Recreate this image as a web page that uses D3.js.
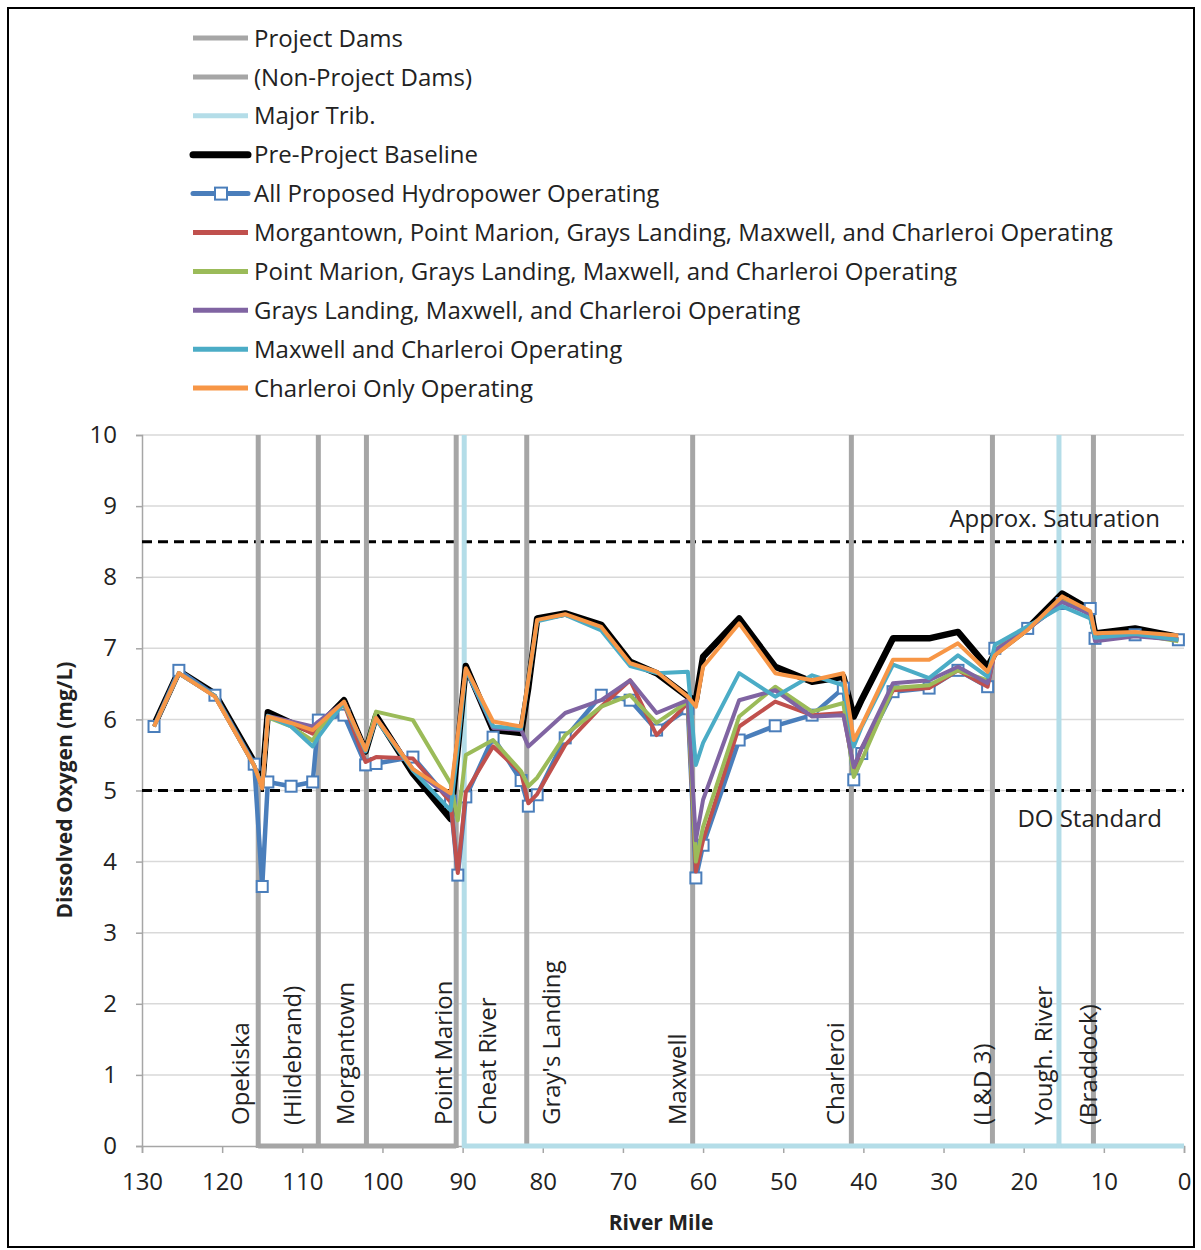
<!DOCTYPE html>
<meta charset="utf-8">
<script src="https://d3js.org/d3.v7.min.js"></script>
<style>
body { margin: 0; background: #fff; }
text { font-family: "Open Sans", sans-serif; fill: #222; }
</style>
<div id="chart"></div>
<script>

// river miles of the model output points (upstream -> downstream)
var miles = [128.5, 125.4, 120.9, 116.0, 115.0, 114.3, 111.4, 108.7, 108.0, 104.8,
             102.1, 100.8, 96.2, 91.5, 90.6, 89.6, 86.2, 82.7, 81.8, 80.7,
             77.2, 72.7, 69.1, 65.8, 61.9, 60.9, 60.0, 55.5, 51.0, 46.4,
             42.5, 41.2, 40.2, 36.3, 31.8, 28.2, 24.5, 23.6, 19.5, 15.2,
             11.7, 11.1, 6.1, 0.7];

// dissolved oxygen (mg/L) for each scenario
var baseline = [5.92, 6.68, 6.36, 5.40, 5.10, 6.10, 5.95, 5.83, 5.90, 6.27,
                5.55, 6.05, 5.24, 4.60, 5.60, 6.75, 5.85, 5.81, 6.45, 7.42,
                7.49, 7.33, 6.81, 6.65, 6.32, 6.27, 6.88, 7.42, 6.74, 6.53,
                6.60, 6.04, 6.28, 7.14, 7.14, 7.23, 6.74, 6.93, 7.28, 7.77,
                7.54, 7.21, 7.28, 7.16];
var allHydro = [5.90, 6.69, 6.34, 5.37, 3.65, 5.12, 5.06, 5.12, 5.99, 6.06,
                5.36, 5.38, 5.47, 4.85, 3.81, 4.91, 5.75, 5.14, 4.78, 4.94,
                5.74, 6.34, 6.27, 5.85, 6.15, 3.77, 4.23, 5.71, 5.91, 6.06,
                6.44, 5.15, 5.52, 6.39, 6.44, 6.69, 6.46, 7.00, 7.28, 7.63,
                7.56, 7.14, 7.19, 7.12];
var fromMorgantown = [5.90, 6.65, 6.33, 5.35, 5.05, 6.03, 5.95, 5.80, 5.90, 6.22,
                      5.40, 5.47, 5.45, 4.84, 3.84, 4.98, 5.62, 5.25, 4.82, 4.95,
                      5.64, 6.18, 6.55, 5.78, 6.23, 3.86, 4.30, 5.90, 6.25, 6.06,
                      6.09, 5.30, 5.60, 6.41, 6.44, 6.69, 6.46, 6.95, 7.27, 7.68,
                      7.50, 7.16, 7.20, 7.13];
var fromPointMarion = [5.90, 6.65, 6.33, 5.35, 5.05, 6.03, 5.90, 5.70, 5.85, 6.22,
                       5.57, 6.11, 5.99, 5.10, 4.58, 5.50, 5.71, 5.27, 5.06, 5.18,
                       5.78, 6.18, 6.34, 5.95, 6.25, 4.00, 4.49, 6.04, 6.46, 6.11,
                       6.23, 5.19, 5.43, 6.44, 6.48, 6.69, 6.55, 6.98, 7.27, 7.66,
                       7.50, 7.14, 7.20, 7.10];
var fromGraysLanding = [5.90, 6.65, 6.33, 5.35, 5.05, 6.05, 5.97, 5.90, 5.97, 6.24,
                        5.57, 6.02, 5.30, 4.90, 5.75, 6.70, 5.88, 5.85, 5.62, 5.73,
                        6.09, 6.27, 6.55, 6.09, 6.27, 4.30, 4.87, 6.27, 6.41, 6.04,
                        6.06, 5.33, 5.60, 6.51, 6.55, 6.74, 6.51, 6.97, 7.27, 7.65,
                        7.48, 7.10, 7.17, 7.12];
var fromMaxwell = [5.90, 6.65, 6.33, 5.35, 5.05, 6.05, 5.90, 5.62, 5.75, 6.24,
                   5.55, 6.00, 5.28, 4.72, 5.60, 6.70, 5.90, 5.87, 6.55, 7.38,
                   7.47, 7.25, 6.75, 6.65, 6.67, 5.36, 5.67, 6.65, 6.32, 6.62,
                   6.48, 5.62, 5.90, 6.77, 6.58, 6.90, 6.60, 7.05, 7.31, 7.59,
                   7.42, 7.15, 7.20, 7.12];
var charleroiOnly = [5.90, 6.65, 6.32, 5.35, 5.03, 6.04, 5.95, 5.85, 5.92, 6.25,
                     5.57, 6.02, 5.30, 4.96, 5.78, 6.72, 5.97, 5.90, 6.56, 7.40,
                     7.48, 7.30, 6.79, 6.67, 6.32, 6.18, 6.74, 7.35, 6.65, 6.55,
                     6.65, 5.71, 5.92, 6.84, 6.84, 7.07, 6.67, 6.90, 7.26, 7.73,
                     7.52, 7.21, 7.23, 7.18];

// dams and tributaries
var damNames = ["Opekiska", "(Hildebrand)", "Morgantown", "Point Marion", "Gray's Landing",
                "Maxwell", "Charleroi", "(L&D 3)", "(Braddock)"];
var damMiles = [115.5, 108.0, 102.0, 90.8, 82.0, 61.3, 41.5, 23.9, 11.3];
var tribNames = ["Cheat River", "Yough. River"];
var tribMiles = [89.8, 15.6];

var yTicks = [0, 1, 2, 3, 4, 5, 6, 7, 8, 9, 10];
var xTicks = [130, 120, 110, 100, 90, 80, 70, 60, 50, 40, 30, 20, 10, 0];
var saturation = 8.5, doStandard = 5;

var legendNames = ["Project Dams", "(Non-Project Dams)", "Major Trib.", "Pre-Project Baseline",
  "All Proposed Hydropower Operating",
  "Morgantown, Point Marion, Grays Landing, Maxwell, and Charleroi Operating",
  "Point Marion, Grays Landing, Maxwell, and Charleroi Operating",
  "Grays Landing, Maxwell, and Charleroi Operating",
  "Maxwell and Charleroi Operating",
  "Charleroi Only Operating"];

var gray = "#a6a6a6", trib = "#b4dde8";
var series = [
  {values: baseline,         color: "#000000", width: 6.5},
  {values: allHydro,         color: "#4a7ebb", width: 4.5, marker: true},
  {values: fromMorgantown,   color: "#c0504d", width: 4},
  {values: fromPointMarion,  color: "#9bbb59", width: 4},
  {values: fromGraysLanding, color: "#8064a2", width: 4},
  {values: fromMaxwell,      color: "#4bacc6", width: 4},
  {values: charleroiOnly,    color: "#f79646", width: 4}
];

var W = 1201, H = 1250;
var svg = d3.select("#chart").append("svg")
    .attr("width", W).attr("height", H);

svg.append("rect").attr("x", 8).attr("y", 8).attr("width", 1186).attr("height", 1239)
  .attr("fill", "#fff").attr("stroke", "#000").attr("stroke-width", 2);

var x = d3.scaleLinear().domain([130, 0]).range([142, 1184]);
var y = d3.scaleLinear().domain([0, 10]).range([1146, 435]);

// gridlines
svg.append("g").selectAll("line").data(yTicks.filter(function(d){ return d > 0; }))
  .enter().append("line")
    .attr("x1", x(130)).attr("x2", x(0))
    .attr("y1", function(d){ return y(d); }).attr("y2", function(d){ return y(d); })
    .attr("stroke", "#d9d9d9").attr("stroke-width", 1.5);

// axes
var yAxis = svg.append("g").attr("transform", "translate(" + x(130) + ",0)")
  .call(d3.axisLeft(y).tickValues(yTicks).tickSize(6).tickPadding(19));
var xAxis = svg.append("g").attr("transform", "translate(0," + y(0) + ")")
  .call(d3.axisBottom(x).tickValues(xTicks).tickSize(7).tickPadding(20));
[yAxis, xAxis].forEach(function(a) {
  a.select(".domain").attr("stroke", "#a6a6a6").attr("stroke-width", 1.5);
  a.selectAll(".tick line").attr("stroke", "#a6a6a6").attr("stroke-width", 1.5);
  a.selectAll(".tick text").attr("font-size", 24).attr("fill", "#222")
    .style("font-family", "'Open Sans', sans-serif");
});

// reference lines
svg.append("g").selectAll("line").data([saturation, doStandard])
  .enter().append("line")
    .attr("x1", x(130)).attr("x2", x(0))
    .attr("y1", function(d){ return y(d); }).attr("y2", function(d){ return y(d); })
    .attr("stroke", "#000").attr("stroke-width", 3).attr("stroke-dasharray", "10,6");

// dam lines
svg.append("line").attr("x1", x(damMiles[0])).attr("x2", x(damMiles[3]))
  .attr("y1", y(0)).attr("y2", y(0)).attr("stroke", gray).attr("stroke-width", 5);
svg.append("g").selectAll("line").data(damMiles)
  .enter().append("line")
    .attr("x1", function(d){ return x(d); }).attr("x2", function(d){ return x(d); })
    .attr("y1", y(10)).attr("y2", y(0) + 2)
    .attr("stroke", gray).attr("stroke-width", 5);
svg.append("line").attr("x1", x(tribMiles[0])).attr("x2", x(0))
  .attr("y1", y(0)).attr("y2", y(0)).attr("stroke", trib).attr("stroke-width", 5);
svg.append("g").selectAll("line").data(tribMiles)
  .enter().append("line")
    .attr("x1", function(d){ return x(d); }).attr("x2", function(d){ return x(d); })
    .attr("y1", y(10)).attr("y2", y(0) + 2)
    .attr("stroke", trib).attr("stroke-width", 5);

// scenario lines
var line = d3.line()
  .x(function(d, i){ return x(miles[i]); })
  .y(function(d){ return y(d); });

series.forEach(function(s) {
  svg.append("path").datum(s.values)
    .attr("d", line)
    .attr("fill", "none")
    .attr("stroke", s.color)
    .attr("stroke-width", s.width)
    .attr("stroke-linejoin", "round");
  if (s.marker) {
    svg.append("g").selectAll("rect").data(s.values)
      .enter().append("rect")
        .attr("x", function(d, i){ return x(miles[i]) - 5.5; })
        .attr("y", function(d){ return y(d) - 5.5; })
        .attr("width", 11).attr("height", 11)
        .attr("fill", "#fff").attr("stroke", s.color).attr("stroke-width", 2);
  }
});

// dam / trib labels (rotated, to the side of each line)
var damDx = [-18, -26, -21, -13, 25, -15, -16, -10, -5];
var tribDx = [23, -16];
function addLabels(names, ms, dx) {
  svg.append("g").selectAll("text").data(names)
    .enter().append("text")
      .attr("transform", function(d, i){
        return "translate(" + (x(ms[i]) + dx[i]) + ",1125) rotate(-90)"; })
      .attr("dy", "0.36em")
      .attr("font-size", 24)
      .text(function(d){ return d; });
}
addLabels(damNames, damMiles, damDx);
addLabels(tribNames, tribMiles, tribDx);

svg.append("text").attr("x", 1160).attr("y", 527).attr("text-anchor", "end")
  .attr("font-size", 24).text("Approx. Saturation");
svg.append("text").attr("x", 1162).attr("y", 827).attr("text-anchor", "end")
  .attr("font-size", 24).text("DO Standard");

// axis titles
svg.append("text").attr("transform", "translate(72,790) rotate(-90)")
  .attr("text-anchor", "middle").attr("font-size", 21).attr("font-weight", "bold")
  .text("Dissolved Oxygen (mg/L)");
svg.append("text").attr("x", 661).attr("y", 1230)
  .attr("text-anchor", "middle").attr("font-size", 21).attr("font-weight", "bold")
  .text("River Mile");

// legend
var legendColors = [gray, gray, trib].concat(series.map(function(s){ return s.color; }));
var legend = svg.append("g").selectAll("g").data(legendNames)
  .enter().append("g")
    .attr("transform", function(d, i){ return "translate(193," + (38 + i * 38.9) + ")"; });
legend.append("line")
  .attr("x1", 0).attr("x2", 55).attr("y1", 0).attr("y2", 0)
  .attr("stroke", function(d, i){ return legendColors[i]; })
  .attr("stroke-width", function(d, i){ return i === 3 ? 7 : 5; })
  .attr("stroke-linecap", function(d, i){ return i === 3 || i === 4 ? "round" : "butt"; });
legend.filter(function(d, i){ return i === 4; }).append("rect")
  .attr("x", 22).attr("y", -6).attr("width", 12).attr("height", 12)
  .attr("fill", "#fff").attr("stroke", series[1].color).attr("stroke-width", 2);
legend.append("text")
  .attr("x", 61).attr("dy", "0.36em").attr("font-size", 24)
  .text(function(d){ return d; });

</script>
